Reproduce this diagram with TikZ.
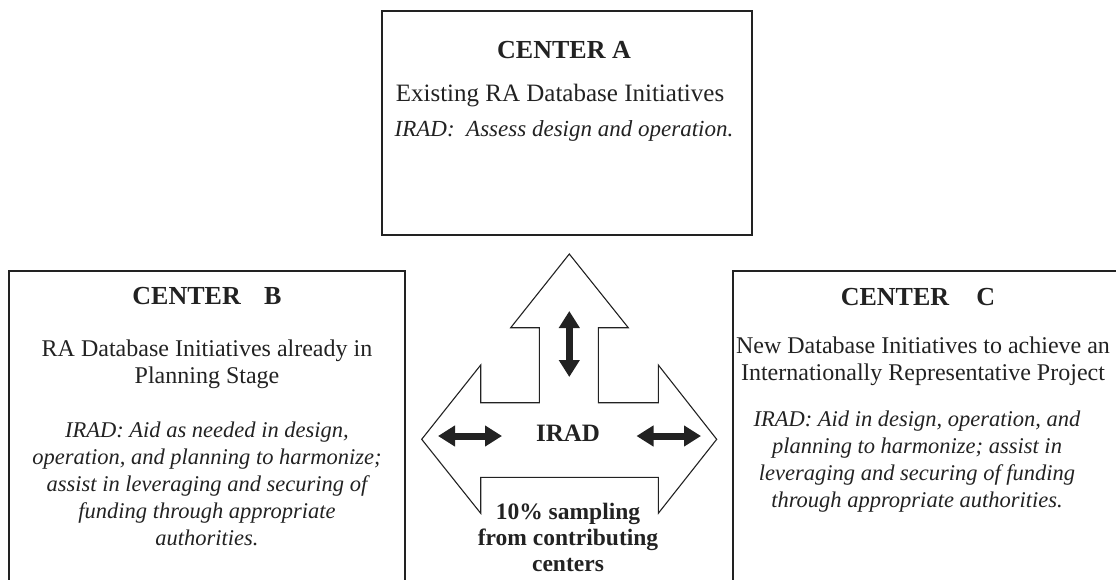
\documentclass[tikz,border=0pt]{standalone}
\usepackage{fontspec}
\setmainfont{Liberation Serif}
\usetikzlibrary{arrows.meta}
\definecolor{ink}{HTML}{222222}
\tikzset{
  frame/.style={draw=ink, line width=1.1pt},
  title/.style={font=\bfseries\fontsize{26}{30}\selectfont, text=ink},
  body/.style={font=\fontsize{24}{27}\selectfont, align=center, text=ink, inner sep=0pt},
  note/.style={font=\itshape\fontsize{22.5}{27}\selectfont, align=center, text=ink, inner sep=0pt},
  hub/.style={draw=ink, line width=1.1pt, line join=miter},
  dbl/.style={ink, line width=7pt,
    {Triangle[length=17pt,width=20pt]}-{Triangle[length=17pt,width=20pt]}},
}
\begin{document}
\begin{tikzpicture}[x=1pt,y=-1pt]
\useasboundingbox (0,0) rectangle (1116,579);
\clip (0,0) rectangle (1116,579);

% the three centre boxes (B and C run off the lower and right edges)
\draw[frame] (382,11) rectangle (752,235);
\draw[frame] (9,640) -- (9,271) -- (405,271) -- (405,640);
\draw[frame] (733,640) -- (733,271) -- (1140,271);

% centre A
\node[title] (ta) at (564,50) {CENTER A};
\node[body, font=\fontsize{25}{27}\selectfont] (ba) at (560,96) {Existing RA Database Initiatives};
\node[note, font=\itshape\fontsize{23}{27}\selectfont] (na) at (564,131) {IRAD:\ \ Assess design and operation.};

% centre B
\node[title] (tb) at (207,296) {CENTER\hspace{0.9em}B};
\node[body]  (bb) at (207,364) {RA Database Initiatives already in\\Planning Stage};
\node[note]  (nb) at (207,484) {IRAD: Aid as needed in design,\\operation, and planning to harmonize;\\assist in leveraging and securing of\\funding through appropriate\\authorities.};

% centre C
\node[title] (tc) at (918,297) {CENTER\hspace{1.05em}C};
\node[body]  (bc) at (923,361) {New Database Initiatives to achieve an\\Internationally Representative Project};
\node[note]  (nc) at (917,462) {IRAD: Aid in design, operation, and\\planning to harmonize; assist in\\leveraging and securing of funding\\through appropriate authorities.};

% three-headed hub arrow
\draw[hub] (569.3,254) -- (628.3,327.7) -- (598.3,327.7) -- (598.3,402.7)
  -- (658.3,402.7) -- (658.3,365) -- (716.7,439.3) -- (658.3,513.3)
  -- (658.3,477.3) -- (480.7,477.3) -- (480.7,513.3) -- (421.7,439.3)
  -- (480.7,365) -- (480.7,402.7) -- (539.3,402.7) -- (539.3,327.7)
  -- (510.7,327.7) -- cycle;

\node[font=\bfseries\fontsize{25}{30}\selectfont, text=ink] (irad) at (568,433) {IRAD};
\node[font=\bfseries\fontsize{23.5}{26}\selectfont, align=center, text=ink, inner sep=0pt]
  (samp) at (568,537) {10\% sampling\\from contributing\\centers};

% double-headed arrows inside the hub
\coordinate (up1) at (569.3,311);
\coordinate (up2) at (569.3,377);
\coordinate (l1) at (438,436);
\coordinate (l2) at (502,436);
\coordinate (r1) at (636.5,436);
\coordinate (r2) at (701,436);
\draw[dbl] (up1) -- (up2);
\draw[dbl] (l1) -- (l2);
\draw[dbl] (r1) -- (r2);
\end{tikzpicture}
\end{document}
